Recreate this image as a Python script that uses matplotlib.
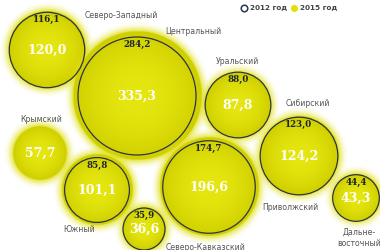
import numpy as np
import matplotlib.pyplot as plt
from matplotlib.patches import Circle

# data: federal districts, 2012 vs 2015
names = ["Северо-Западный", "Центральный", "Уральский", "Сибирский", "Крымский",
         "Южный", "Приволжский", "Северо-Кавказский", "Дальне-\nвосточный"]
v2012 = [116.1, 284.2, 88.0, 123.0, None, 85.8, 174.7, 35.9, 44.4]
v2015 = [120.0, 335.3, 87.8, 124.2, 57.7, 101.1, 196.6, 36.6, 43.3]

# layout (pixel coords of bubble centres and name labels)
centers = [(47, 50), (137, 96), (238, 105), (299, 156), (40, 153),
           (97, 190), (209, 187), (144, 229), (356, 198)]
name_pos = [(85, 15, "left"), (165, 32, "left"), (216, 62, "left"), (286, 104, "left"),
            (20, 119, "left"), (63, 229, "left"), (262, 208, "left"),
            (166, 247, "left"), (359, 238, "center")]

k = 3.5  # radius = k*sqrt(value)
dark = "#2e3440"
c_mid = np.array([0.90, 0.90, 0.06])
c_edge = np.array([0.81, 0.81, 0.0])
glow = 10

fig = plt.figure(figsize=(3.8, 2.5), dpi=100)
ax = fig.add_axes([0, 0, 1, 1])
ax.set_xlim(0, 380)
ax.set_ylim(250, 0)
ax.set_aspect("equal")
ax.axis("off")

def fmt(v):
    return f"{v:.1f}".replace(".", ",")

def bubble(cx, cy, rf):
    R = rf + glow
    g = np.linspace(-R, R, 300)
    X, Y = np.meshgrid(g, g)
    d = np.hypot(X, Y)
    t = np.clip(d / rf, 0, 1) ** 2
    img = np.zeros(d.shape + (4,))
    img[..., :3] = c_mid * (1 - t[..., None]) + c_edge * t[..., None]
    s = np.clip((d - rf) / glow, 0, 1)
    img[..., :3] = np.where((d > rf)[..., None], np.array([0.88, 0.88, 0.1]), img[..., :3])
    img[..., 3] = np.where(d <= rf, 1.0, (1 - s) ** 2 * 0.85)
    ax.imshow(img, extent=(cx - R, cx + R, cy + R, cy - R), interpolation="bilinear", zorder=1)

for name, a, b, (cx, cy), (nx, ny, ha) in zip(names, v2012, v2015, centers, name_pos):
    rf = k * np.sqrt(b)
    bubble(cx, cy, rf)
    if a is not None:
        ro = k * np.sqrt(a)
        ax.add_patch(Circle((cx, cy), ro, fill=False, ec=dark, lw=0.9, zorder=2))
        ax.text(cx, cy - ro + 7.5, fmt(a), ha="center", va="center", color="#1b2330",
                fontsize=6.2, fontweight="bold", family="DejaVu Serif", zorder=3)
    ax.text(cx, cy, fmt(b), ha="center", va="center", color="white",
            fontsize=9.0, fontweight="bold", family="DejaVu Serif", zorder=3)
    ax.text(nx, ny, name, ha=ha, va="center", color="#555555", fontsize=5.6,
            linespacing=1.3, zorder=3)

ax.set_xlim(0, 380)
ax.set_ylim(250, 0)

# legend
ax.scatter([244], [7.5], s=22, facecolor="white", edgecolor="#2a3550", lw=1.1, zorder=3)
ax.text(249.5, 7.5, "2012 год", va="center", fontsize=5.2, fontweight="bold", color="#444444")
ax.scatter([294], [7.5], s=26, color="#e2e200", lw=0, zorder=3)
ax.text(299.5, 7.5, "2015 год", va="center", fontsize=5.2, fontweight="bold", color="#444444")

fig.savefig("out.png", dpi=100)
